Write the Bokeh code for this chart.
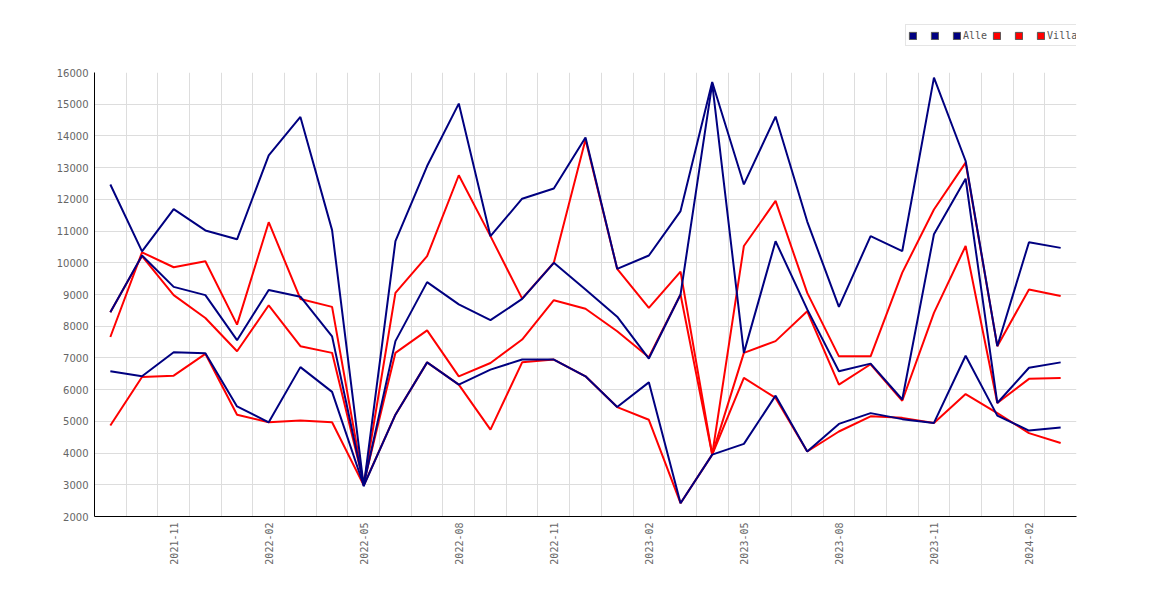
import math
from bokeh.plotting import figure
from bokeh.layouts import column
from bokeh.models import (ColumnDataSource, FixedTicker, Grid, Legend, LegendItem, Range1d)
from bokeh.core.properties import value
from bokeh.embed import file_html
from bokeh.resources import INLINE

months = ["2021-09", "2021-10", "2021-11", "2021-12", "2022-01", "2022-02", "2022-03",
          "2022-04", "2022-05", "2022-06", "2022-07", "2022-08", "2022-09", "2022-10",
          "2022-11", "2022-12", "2023-01", "2023-02", "2023-03", "2023-04", "2023-05",
          "2023-06", "2023-07", "2023-08", "2023-09", "2023-10", "2023-11", "2023-12",
          "2024-01", "2024-02", "2024-03"]
tick_months = ["2021-11", "2022-02", "2022-05", "2022-08", "2022-11", "2023-02",
               "2023-05", "2023-08", "2023-11", "2024-02"]
y_ticks = [2000, 3000, 4000, 5000, 6000, 7000, 8000, 9000, 10000, 11000, 12000,
           13000, 14000, 15000, 16000]

alle_1 = [12470, 10360, 11690, 11020, 10740, 13390, 14600, 11030, 2950, 10680, 13050,
          15020, 10840, 12020, 12340, 13950, 9810, 10230, 11630, 15700, 12470, 14610,
          11300, 8610, 10840, 10370, 15840, 13210, 7370, 10650, 10470]
alle_2 = [8440, 10230, 9240, 8980, 7560, 9140, 8930, 7680, 3000, 7530, 9390, 8690, 8190,
          8860, 10000, 9160, 8300, 6980, 9000, 15650, 7160, 10680, 8530, 6580, 6820,
          5690, 10900, 12650, 5580, 6690, 6860]
alle_3 = [6580, 6420, 7180, 7150, 5470, 4970, 6710, 5930, 2970, 5210, 6860, 6160, 6630,
          6950, 6950, 6420, 5450, 6230, 2420, 3950, 4290, 5810, 4050, 4920, 5260, 5070,
          4950, 7070, 5180, 4710, 4810]
villa_1 = [7660, 10330, 9860, 10050, 8050, 11280, 8860, 8610, 3000, 9050, 10210, 12760,
           10840, 8870, 10000, 13890, 9810, 8580, 9720, 3950, 10530, 11950, 9050, 7050,
           7050, 9690, 11680, 13160, 7370, 9160, 8950]
villa_2 = [8440, 10210, 8980, 8260, 7210, 8660, 7370, 7160, 3050, 7160, 7870, 6420, 6840,
           7580, 8820, 8550, 7840, 7020, 9000, 3950, 7160, 7530, 8470, 6160, 6800, 5650,
           8420, 10530, 5580, 6340, 6370]
villa_3 = [4870, 6400, 6440, 7130, 5210, 4970, 5030, 4970, 2980, 5210, 6860, 6160, 4740,
           6860, 6950, 6420, 5450, 5050, 2420, 3950, 6370, 5740, 4050, 4680, 5160, 5110,
           4950, 5860, 5260, 4630, 4320]

NAVY = "#000080"
RED = "#ff0000"

xs = list(range(len(months)))

# ---- main chart ----
p = figure(width=1162, height=530, output_backend="svg", toolbar_location=None,
           x_range=Range1d(-0.5, len(months) - 0.5), y_range=Range1d(2000, 16000),
           min_border_left=94, min_border_right=86, min_border_top=10,
           min_border_bottom=76)
p.outline_line_color = None
p.background_fill_color = "white"
p.border_fill_color = "white"

p.xgrid.visible = False
p.ygrid.grid_line_color = "#dddddd"
p.ygrid.grid_line_width = 1
xgrid = Grid(dimension=0, ticker=FixedTicker(ticks=[i - 0.5 for i in range(len(months) + 1)]),
             grid_line_color="#dddddd", grid_line_width=1)
p.add_layout(xgrid)

tick_idx = [months.index(m) for m in tick_months]
p.xaxis.ticker = FixedTicker(ticks=tick_idx)
p.xaxis.major_label_overrides = {i: months[i] for i in tick_idx}
p.xaxis.major_label_orientation = math.pi / 2
p.yaxis.ticker = FixedTicker(ticks=y_ticks)
for ax in (p.xaxis, p.yaxis):
    ax.axis_line_color = "black"
    ax.axis_line_width = 1
    ax.major_tick_line_color = None
    ax.minor_tick_line_color = None
    ax.major_tick_out = 0
    ax.major_tick_in = 0
    ax.major_label_text_color = "#666666"
    ax.major_label_text_font_size = "10px"
    ax.major_label_standoff = 6
p.xaxis.major_label_text_font = "DejaVu Sans Mono"
p.yaxis.major_label_text_font = "DejaVu Sans"

for ys in (villa_1, villa_2, villa_3):
    p.line(xs, ys, line_color=RED, line_width=2)
for ys in (alle_1, alle_2, alle_3):
    p.line(xs, ys, line_color=NAVY, line_width=2)

# ---- legend strip ----
lf = figure(width=1162, height=62, output_backend="svg", toolbar_location=None,
            x_axis_type=None, y_axis_type=None,
            min_border_left=94, min_border_right=60, min_border_top=0, min_border_bottom=0)
lf.outline_line_color = None
lf.grid.visible = False
lf.background_fill_color = "white"
lf.border_fill_color = "white"

def swatch(color):
    src = ColumnDataSource(dict(left=[math.nan], right=[math.nan], top=[math.nan], bottom=[math.nan]))
    return lf.quad(left="left", right="right", top="top", bottom="bottom", source=src,
                   fill_color=color, line_color="#555555", line_width=1)

items = []
for lab in (" ", " ", "Alle"):
    items.append(LegendItem(label=value(lab), renderers=[swatch(NAVY)]))
for lab in (" ", " ", "Villa"):
    items.append(LegendItem(label=value(lab), renderers=[swatch(RED)]))

legend = Legend(items=items, orientation="horizontal", location=(811, 16),
                glyph_width=9, glyph_height=9, label_standoff=2, spacing=5, padding=2,
                label_width=6, label_height=16, margin=0,
                label_text_font="DejaVu Sans Mono", label_text_font_size="10px",
                label_text_color="#555555", border_line_color="#cccccc",
                border_line_width=1, background_fill_color="white", background_fill_alpha=1)
lf.add_layout(legend, "center")

layout = column(lf, p, spacing=0)
open("out.html", "w").write(file_html(layout, INLINE))
